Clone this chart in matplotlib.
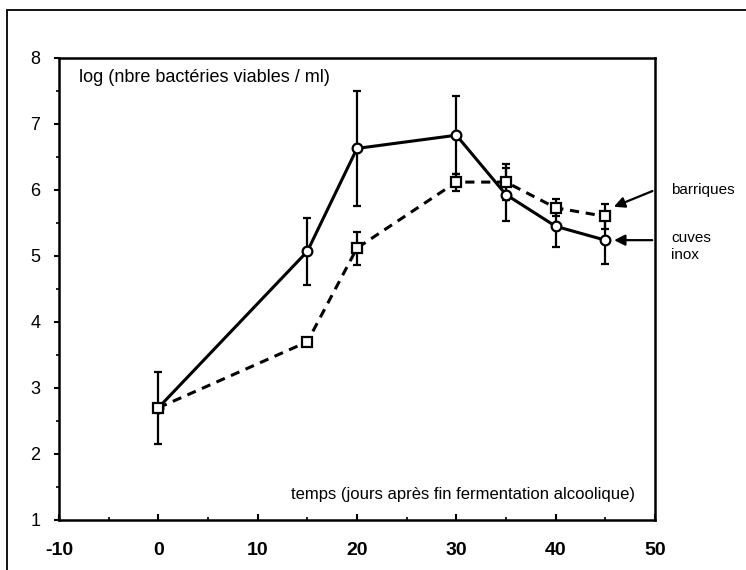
import matplotlib.pyplot as plt
from matplotlib.patches import Rectangle
from matplotlib.ticker import MultipleLocator

plt.rcParams['font.family'] = ['Liberation Sans', 'DejaVu Sans']
plt.rcParams['axes.unicode_minus'] = False

# jours apres fin fermentation alcoolique
jours = [0, 15, 20, 30, 35, 40, 45]

# log(nbre bacteries viables / ml)
cuves_inox = [2.70, 5.07, 6.63, 6.83, 5.93, 5.45, 5.24]
cuves_err = [0.55, 0.51, 0.87, 0.59, 0.40, 0.31, 0.36]
barriques = [2.70, 3.70, 5.12, 6.12, 6.12, 5.73, 5.60]
barriques_err = [0.0, 0.0, 0.25, 0.13, 0.27, 0.13, 0.19]

xticks = [-10, 0, 10, 20, 30, 40, 50]
yticks = [1, 2, 3, 4, 5, 6, 7, 8]

fig = plt.figure(figsize=(7.46, 5.70), dpi=100)
ax = fig.add_axes([59 / 746, 1 - 520 / 570, 596 / 746, 462 / 570])

# cadre exterieur du scan
fig.patches.append(Rectangle((7 / 746, -0.2), 1.2, 1.2 - 10 / 570, transform=fig.transFigure,
                             fill=False, edgecolor="black", linewidth=1.3))

ax.errorbar(jours, cuves_inox, yerr=cuves_err, color="black", linestyle="-", linewidth=2.2,
            marker="o", markersize=7, markerfacecolor="white", markeredgecolor="black",
            markeredgewidth=1.6, ecolor="black", elinewidth=1.6, capsize=3, capthick=1.6, zorder=3)
ax.errorbar(jours, barriques, yerr=barriques_err, color="black", linestyle=(0, (3, 2.2)), linewidth=2.2,
            marker="s", markersize=6.5, markerfacecolor="white", markeredgecolor="black",
            markeredgewidth=1.6, ecolor="black", elinewidth=1.6, capsize=3, capthick=1.6, zorder=3)

ax.set_xlim(-10, 50)
ax.set_ylim(1, 8)
ax.set_xticks(xticks)
ax.set_yticks(yticks)
ax.yaxis.set_minor_locator(MultipleLocator(0.5))
ax.xaxis.set_minor_locator(MultipleLocator(5))
ax.tick_params(axis="y", direction="out", length=3.5, width=1.5, labelsize=13, pad=10)
ax.tick_params(axis="y", which="minor", direction="out", length=2, width=1.2)
ax.tick_params(axis="x", direction="in", length=4, width=1.5, labelsize=14, pad=16)
ax.tick_params(axis="x", which="minor", direction="in", length=2, width=1.2)
for lab in ax.get_xticklabels():
    lab.set_fontweight("bold")
for s in ax.spines.values():
    s.set_linewidth(1.8)

ax.text(-8.0, 7.71, "log (nbre bactéries viables / ml)", fontsize=13, ha="left", va="center")
ax.text(48.0, 1.39, "temps (jours après fin fermentation alcoolique)", fontsize=12, ha="right", va="center")

ax.annotate("", xy=(45.6, 5.73), xytext=(50, 6.0), annotation_clip=False,
            arrowprops=dict(arrowstyle="-|>", color="black", lw=1.6, mutation_scale=16))
ax.annotate("", xy=(45.6, 5.24), xytext=(50, 5.24), annotation_clip=False,
            arrowprops=dict(arrowstyle="-|>", color="black", lw=1.6, mutation_scale=16))
ax.text(51.6, 6.0, "barriques", fontsize=11, ha="left", va="center", clip_on=False)
ax.text(51.6, 5.14, "cuves\ninox", fontsize=11, ha="left", va="center", linespacing=1.25, clip_on=False)

fig.savefig("out.png", dpi=100)
